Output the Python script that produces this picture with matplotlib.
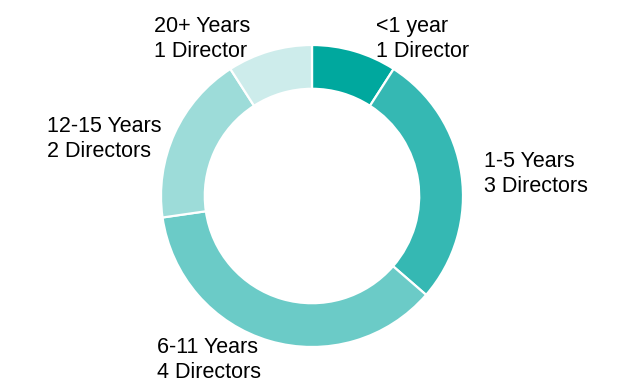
import matplotlib
matplotlib.use("Agg")
import matplotlib.pyplot as plt

categories = ["<1 year", "1-5 Years", "6-11 Years", "12-15 Years", "20+ Years"]
directors = [1, 3, 4, 2, 1]
count_labels = ["1 Director", "3 Directors", "4 Directors", "2 Directors", "1 Director"]
colors = ["#00A89E", "#35B8B3", "#6BCBC7", "#9DDCD9", "#CDECEB"]

W, H = 624, 390
fig = plt.figure(figsize=(W / 100, H / 100), dpi=100)
ax = fig.add_axes([0, 0, 1, 1])

cx, cy, r = 312, H - 196, 151
ax.pie(directors, colors=colors, startangle=90, counterclock=False,
       center=(cx, cy), radius=r, frame=True,
       wedgeprops=dict(width=r * 0.29, edgecolor="white", linewidth=1.6))
ax.set_xlim(0, W)
ax.set_ylim(0, H)
ax.set_aspect("equal")
ax.axis("off")

# label anchor positions (pixels: left x, baseline of first line)
label_pos = {
    "<1 year": (376, 32),
    "1-5 Years": (484, 167),
    "6-11 Years": (157, 353),
    "12-15 Years": (47, 132),
    "20+ Years": (154, 32),
}
gap = 25
for cat, cl in zip(categories, count_labels):
    x, yb = label_pos[cat]
    ax.text(x, H - yb, cat, ha="left", va="baseline", fontsize=15.5,
            family="Liberation Sans", color="#000000")
    ax.text(x, H - yb - gap, cl, ha="left", va="baseline", fontsize=15.5,
            family="Liberation Sans", color="#000000")

fig.savefig("out.png", dpi=100)
